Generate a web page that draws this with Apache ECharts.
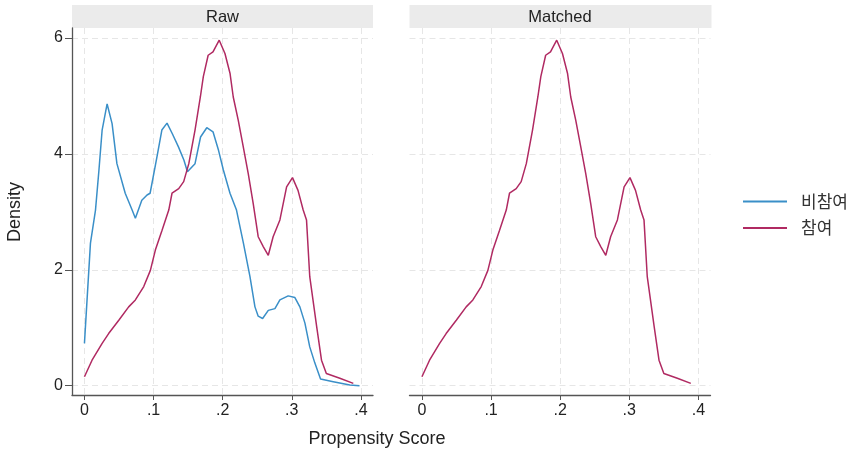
<!DOCTYPE html>
<html>
<head>
<meta charset="utf-8">
<script src="https://cdn.jsdelivr.net/npm/echarts@6/dist/echarts.min.js"></script>
<style>html,body{margin:0;padding:0;background:#fff}#c{width:858px;height:452px}</style>
</head>
<body>
<div id="c"></div>
<script>
// Propensity score grid (x) and density values (y)
const nonPartX = [0, 0.0087, 0.016, 0.021, 0.0256, 0.0328, 0.040, 0.047, 0.059, 0.069, 0.0737, 0.083, 0.0906, 0.095, 0.105, 0.112, 0.1195, 0.127, 0.136, 0.144, 0.149, 0.160, 0.168, 0.177, 0.186, 0.194, 0.201, 0.2106, 0.220, 0.230, 0.2395, 0.2467, 0.2514, 0.2578, 0.266, 0.2756, 0.2828, 0.2948, 0.3045, 0.3117, 0.319, 0.326, 0.3334, 0.3416, 0.36, 0.384, 0.398];
const nonPartY = [0.73, 2.46, 3.03, 3.72, 4.41, 4.86, 4.52, 3.83, 3.32, 3.03, 2.89, 3.20, 3.29, 3.32, 3.95, 4.41, 4.53, 4.35, 4.12, 3.89, 3.69, 3.83, 4.29, 4.45, 4.38, 4.06, 3.72, 3.32, 3.03, 2.46, 1.88, 1.36, 1.20, 1.16, 1.30, 1.33, 1.48, 1.55, 1.52, 1.36, 1.08, 0.67, 0.39, 0.115, 0.07, 0.012, 0.0];
const partX = [0.0, 0.011, 0.0256, 0.035, 0.0497, 0.064, 0.0737, 0.0858, 0.0954, 0.1026, 0.1123, 0.122, 0.1267, 0.1364, 0.1436, 0.151, 0.160, 0.1677, 0.172, 0.179, 0.186, 0.195, 0.2033, 0.2106, 0.2153, 0.2225, 0.2298, 0.237, 0.2442, 0.2514, 0.2587, 0.266, 0.273, 0.2828, 0.2925, 0.301, 0.309, 0.3165, 0.3213, 0.326, 0.336, 0.343, 0.350, 0.3695, 0.389];
const partY = [0.155, 0.44, 0.73, 0.90, 1.13, 1.36, 1.48, 1.71, 1.99, 2.34, 2.68, 3.03, 3.32, 3.40, 3.52, 3.83, 4.41, 4.98, 5.33, 5.70, 5.76, 5.96, 5.73, 5.39, 4.98, 4.58, 4.12, 3.66, 3.14, 2.57, 2.40, 2.25, 2.57, 2.86, 3.43, 3.59, 3.37, 3.03, 2.86, 1.88, 1.02, 0.44, 0.21, 0.13, 0.04];
const xTicks = [0, 0.1, 0.2, 0.3, 0.4];
const yTicks = [0, 2, 4, 6];
const panelTitles = ['Raw', 'Matched'];
const seriesNames = ['비참여', '참여'];

const BLUE = '#3a8fc8', RED = '#b02a62';
const FONT = 'Liberation Sans, Arial, sans-serif';
const pair = (xs, ys) => xs.map((x, i) => [x, ys[i]]);
const fmtX = v => { const r = Math.round(v * 10) / 10; return r === 0 ? '0' : ('.' + Math.round(r * 10)); };

const grids = [
  { left: 72, top: 28, width: 301, height: 367 },
  { left: 409.5, top: 28, width: 301, height: 367 }
];
const xAxisBase = i => ({
  type: 'value', gridIndex: i, min: -0.018, max: 0.4175,
  axisLine: { show: true, onZero: false, lineStyle: { color: '#555', width: 1.3 } },
  axisTick: { show: true, length: 5, lineStyle: { color: '#555' }, customValues: xTicks },
  axisLabel: { customValues: xTicks, formatter: fmtX, color: '#222', fontSize: 16, fontFamily: FONT, margin: 8 },
  splitLine: { show: true, lineStyle: { color: '#e6e6e6', type: [6, 4], width: 1 } }
});
const yAxisBase = i => ({
  type: 'value', gridIndex: i, min: -0.16, max: 6.17,
  axisLine: { show: i === 0, onZero: false, lineStyle: { color: '#555', width: 1.3 } },
  axisTick: { show: i === 0, length: 7, lineStyle: { color: '#555' }, customValues: yTicks },
  axisLabel: { show: i === 0, customValues: yTicks, color: '#222', fontSize: 16, fontFamily: FONT, margin: 9 },
  splitLine: { show: true, lineStyle: { color: '#e6e6e6', type: [6, 4], width: 1 } }
});

const chart = echarts.init(document.getElementById('c'), null, { renderer: 'canvas' });
const graphics = [];
grids.forEach((g, i) => {
  graphics.push({ type: 'rect', left: g.left, top: 5, shape: { width: g.width + (i === 0 ? 0 : 1), height: 23 }, style: { fill: '#ebebeb' }, silent: true });
  graphics.push({ type: 'text', x: g.left + g.width / 2, y: 17, style: { text: panelTitles[i], fill: '#222', font: '16.5px ' + FONT, textAlign: 'center', textVerticalAlign: 'middle' } });
});
graphics.push({ type: 'text', x: 377, y: 439, style: { text: 'Propensity Score', fill: '#222', font: '18px ' + FONT, textAlign: 'center', textVerticalAlign: 'middle' } });
graphics.push({ type: 'text', x: 15, y: 212, rotation: Math.PI / 2, style: { text: 'Density', fill: '#222', font: '18px ' + FONT, textAlign: 'center', textVerticalAlign: 'middle' } });

chart.setOption({
  animation: false,
  grid: grids,
  xAxis: [xAxisBase(0), xAxisBase(1)],
  yAxis: [yAxisBase(0), yAxisBase(1)],
  legend: {
    orient: 'vertical', left: 738, top: 188, itemWidth: 44, itemHeight: 2, itemGap: 9.4,
    icon: 'rect',
    data: seriesNames,
    textStyle: { fontSize: 17, color: '#333', fontFamily: 'Noto Sans CJK KR', padding: [0, 0, 0, 9] }
  },
  graphic: graphics,
  series: [
    { name: seriesNames[0], type: 'line', xAxisIndex: 0, yAxisIndex: 0, data: pair(nonPartX, nonPartY), showSymbol: false, symbol: 'none', color: BLUE, lineStyle: { width: 1.5, color: BLUE } },
    { name: seriesNames[1], type: 'line', xAxisIndex: 0, yAxisIndex: 0, data: pair(partX, partY), showSymbol: false, symbol: 'none', color: RED, lineStyle: { width: 1.5, color: RED } },
    { name: seriesNames[1], type: 'line', xAxisIndex: 1, yAxisIndex: 1, data: pair(partX, partY), showSymbol: false, symbol: 'none', color: RED, lineStyle: { width: 1.5, color: RED } }
  ]
});
</script>
</body>
</html>
